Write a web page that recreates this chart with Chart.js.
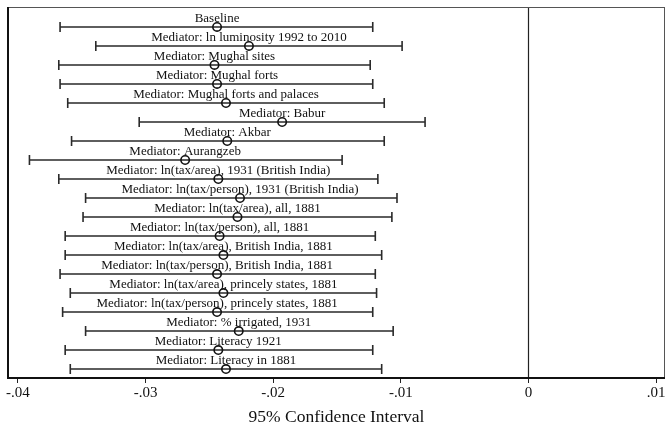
<!DOCTYPE html>
<html>
<head>
<meta charset="utf-8">
<script src="https://cdn.jsdelivr.net/npm/chart.js@4.4.0/dist/chart.umd.min.js"></script>
<style>
	html, body { margin: 0; padding: 0; background: #fff; }
	#wrap { width: 666px; height: 425px; }
</style>
</head>
<body>
<div id="wrap"><canvas id="ciChart" width="666" height="425"></canvas></div>
<script>
	'use strict';
	const rowLabels = [
		'Baseline',
		'Mediator: ln luminosity 1992 to 2010',
		'Mediator: Mughal sites',
		'Mediator: Mughal forts',
		'Mediator: Mughal forts and palaces',
		'Mediator: Babur',
		'Mediator: Akbar',
		'Mediator: Aurangzeb',
		'Mediator: ln(tax/area), 1931 (British India)',
		'Mediator: ln(tax/person), 1931 (British India)',
		'Mediator: ln(tax/area), all, 1881',
		'Mediator: ln(tax/person), all, 1881',
		'Mediator: ln(tax/area), British India, 1881',
		'Mediator: ln(tax/person), British India, 1881',
		'Mediator: ln(tax/area), princely states, 1881',
		'Mediator: ln(tax/person), princely states, 1881',
		'Mediator: % irrigated, 1931',
		'Mediator: Literacy 1921',
		'Mediator: Literacy in 1881'
	];
	const estimates = [-0.0244, -0.0219, -0.0246, -0.0244, -0.0237, -0.0193, -0.0236, -0.0269, -0.0243, -0.0226, -0.0228, -0.0242, -0.0239, -0.0244, -0.0239, -0.0244, -0.0227, -0.0243, -0.0237];
	const lowerCI = [-0.0367, -0.0339, -0.0368, -0.0367, -0.0361, -0.0305, -0.0358, -0.0391, -0.0368, -0.0347, -0.0349, -0.0363, -0.0363, -0.0367, -0.0359, -0.0365, -0.0347, -0.0363, -0.0359];
	const upperCI = [-0.0122, -0.0099, -0.0124, -0.0122, -0.0113, -0.0081, -0.0113, -0.0146, -0.0118, -0.0103, -0.0107, -0.0120, -0.0115, -0.0120, -0.0119, -0.0122, -0.0106, -0.0122, -0.0115];
	const xTicks = [-0.04, -0.03, -0.02, -0.01, 0, 0.01];
	const xTickLabels = ['-.04', '-.03', '-.02', '-.01', '0', '.01'];

	const serif = '"Liberation Serif", "Times New Roman", serif';

	const ciPlugin = {
		id: 'ciPlugin',
		beforeDatasetsDraw(chart) {
			const { ctx, chartArea, scales: { x, y } } = chart;
			ctx.save();
			// zero line
			const zx = Math.round(x.getPixelForValue(0)) + 0.5;
			ctx.strokeStyle = '#222';
			ctx.lineWidth = 1.2;
			ctx.beginPath();
			ctx.moveTo(zx, chartArea.top);
			ctx.lineTo(zx, chartArea.bottom);
			ctx.stroke();
			// intervals with caps
			ctx.strokeStyle = '#2a2a2a';
			ctx.lineWidth = 1.6;
			rowLabels.forEach((lbl, i) => {
				const py = y.getPixelForValue(i + 1);
				const x1 = x.getPixelForValue(lowerCI[i]);
				const x2 = x.getPixelForValue(upperCI[i]);
				ctx.beginPath();
				ctx.moveTo(x1, py);
				ctx.lineTo(x2, py);
				ctx.moveTo(x1, py - 5);
				ctx.lineTo(x1, py + 5);
				ctx.moveTo(x2, py - 5);
				ctx.lineTo(x2, py + 5);
				ctx.stroke();
			});
			ctx.restore();
		},
		afterDatasetsDraw(chart) {
			const { ctx, chartArea, scales: { x, y } } = chart;
			ctx.save();
			ctx.font = '13px ' + serif;
			ctx.fillStyle = '#111';
			ctx.textAlign = 'center';
			ctx.textBaseline = 'alphabetic';
			rowLabels.forEach((lbl, i) => {
				ctx.fillText(lbl, x.getPixelForValue(estimates[i]), y.getPixelForValue(i + 1) - 5);
			});
			// frame
			ctx.strokeStyle = '#555';
			ctx.lineWidth = 1;
			ctx.strokeRect(chartArea.left, chartArea.top + 0.5, chartArea.right - chartArea.left - 0.5, chartArea.bottom - chartArea.top);
			ctx.strokeStyle = '#111';
			ctx.lineWidth = 2;
			ctx.beginPath();
			ctx.moveTo(chartArea.left, chartArea.top);
			ctx.lineTo(chartArea.left, chartArea.bottom);
			ctx.lineTo(chartArea.right, chartArea.bottom);
			ctx.stroke();
			ctx.restore();
		}
	};

	const points = estimates.map((v, i) => ({ x: v, y: i + 1 }));

	new Chart(document.getElementById('ciChart').getContext('2d'), {
		type: 'scatter',
		data: {
			datasets: [{
				data: points,
				pointStyle: 'circle',
				pointRadius: 4.2,
				pointBorderWidth: 1.6,
				pointBorderColor: '#111',
				pointBackgroundColor: 'rgba(255,255,255,0)'
			}]
		},
		options: {
			responsive: false,
			animation: false,
			devicePixelRatio: 1,
			layout: { autoPadding: false, padding: { left: 8, right: 1, top: 7, bottom: 0 } },
			plugins: { legend: { display: false }, tooltip: { enabled: false } },
			scales: {
				x: {
					type: 'linear',
					min: -0.04078,
					max: 0.0107,
					afterBuildTicks: (scale) => {
						scale.ticks = xTicks.map(v => ({ value: v }));
					},
					afterFit: (scale) => {
						scale.height = 47;
						scale.paddingLeft = 0;
						scale.paddingRight = 0;
					},
					grid: {
						drawOnChartArea: false,
						drawTicks: true,
						tickLength: 5,
						tickWidth: 1,
						tickColor: '#222'
					},
					border: { display: false },
					ticks: {
						padding: 1,
						color: '#111',
						font: { family: serif, size: 15 },
						maxRotation: 0,
						callback: (v) => {
							const k = xTicks.findIndex(t => Math.abs(t - v) < 1e-9);
							return k >= 0 ? xTickLabels[k] : '';
						}
					},
					title: {
						display: true,
						text: '95% Confidence Interval',
						color: '#111',
						font: { family: serif, size: 17.5, lineHeight: 0.85 },
						padding: { top: 2, bottom: 0 }
					}
				},
				y: {
					type: 'linear',
					display: false,
					reverse: true,
					min: -0.05,
					max: 19.47
				}
			}
		},
		plugins: [ciPlugin]
	});
</script>
</body>
</html>
